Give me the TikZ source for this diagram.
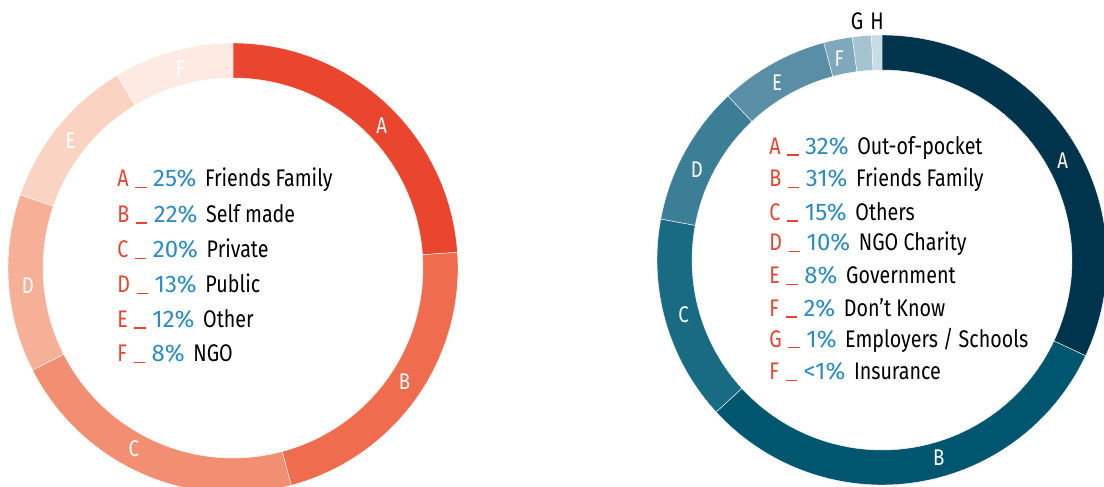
\documentclass[tikz,border=0pt]{standalone}
\usepackage{fontspec}
\setmainfont{Fira Sans}[FakeStretch=0.82]
\newfontfamily\pctfont{Fira Sans}
\definecolor{lA}{HTML}{E9452F}
\definecolor{lB}{HTML}{EF6D4E}
\definecolor{lC}{HTML}{F28F73}
\definecolor{lD}{HTML}{F6B097}
\definecolor{lE}{HTML}{FAD3C3}
\definecolor{lF}{HTML}{FDEAE2}
\definecolor{rA}{HTML}{00344D}
\definecolor{rB}{HTML}{01566F}
\definecolor{rC}{HTML}{196A83}
\definecolor{rD}{HTML}{3D7E97}
\definecolor{rE}{HTML}{5A8EA6}
\definecolor{rF}{HTML}{80A8BB}
\definecolor{rG}{HTML}{A6C3D1}
\definecolor{rH}{HTML}{C8DCE5}
\definecolor{legred}{HTML}{E8432F}
\definecolor{legblue}{HTML}{2B8CC4}
\newcommand\ringseg[3]{%
  \fill[#1,draw=white,line width=0.3pt] (#2:225) arc[start angle=#2,end angle=#3,radius=225]
    -- (#3:190) arc[start angle=#3,end angle=#2,radius=190] -- cycle;}
\newcommand\legrow[3]{{\color{legred}#1\hspace{5pt}\rule[-0.9pt]{8.5pt}{0.9pt}\hspace{5pt}}{\color{legblue}\pctfont #2}\hspace{6.5pt}#3}
\begin{document}
\begin{tikzpicture}[x=0.75pt,y=0.75pt,
  seglabel/.style={text=white,font=\fontsize{17}{17}\selectfont,inner sep=0pt},
  outlabel/.style={text=black,font=\fontsize{18}{18}\selectfont,inner sep=0pt},
  legend/.style={anchor=west,inner sep=0pt,font=\fontsize{18}{18}\selectfont}]
\useasboundingbox (0,0) rectangle (1104,486);
% left ring
\begin{scope}[shift={(233,218)}]
  \ringseg{lA}{90}{4}
  \ringseg{lB}{4}{-75}
  \ringseg{lC}{-75}{-153}
  \ringseg{lD}{-153}{-199}
  \ringseg{lE}{161}{121}
  \ringseg{lF}{121}{90}
  \node[seglabel] (lLA) at (43.8:206) {A};
  \node[seglabel] (lLB) at (-33.6:206) {B};
  \node[seglabel] (lLC) at (-118.8:206) {C};
  \node[seglabel] (lLD) at (185:206) {D};
  \node[seglabel] (lLE) at (142:206) {E};
  \node[seglabel] (lLF) at (104.8:206) {F};
\end{scope}
% right ring
\begin{scope}[shift={(882,226)}]
  \ringseg{rA}{90}{-25.2}
  \ringseg{rB}{-25.2}{-137.5}
  \ringseg{rC}{-137.5}{-190.5}
  \ringseg{rD}{169.5}{133.2}
  \ringseg{rE}{133.2}{105}
  \ringseg{rF}{105}{97.6}
  \ringseg{rG}{97.6}{92.7}
  \ringseg{rH}{92.7}{90}
  \node[seglabel] (rLA) at (28.7:206) {A};
  \node[seglabel] (rLB) at (-74:206) {B};
  \node[seglabel] (rLC) at (195.5:206) {C};
  \node[seglabel] (rLD) at (154:206) {D};
  \node[seglabel] (rLE) at (120.6:206) {E};
  \node[seglabel] (rLF) at (102:206) {F};
\end{scope}
\node[outlabel] (rLG) at (857,465) {G};
\node[outlabel] (rLH) at (877,465) {H};
% left legend
\node[legend] (l1) at (117,306) {\legrow{A}{25\%}{Friends Family}};
\node[legend] (l2) at (117,272) {\legrow{B}{22\%}{Self made}};
\node[legend] (l3) at (117,237) {\legrow{C}{20\%}{Private}};
\node[legend] (l4) at (117,202) {\legrow{D}{13\%}{Public}};
\node[legend] (l5) at (117,167) {\legrow{E}{12\%}{Other}};
\node[legend] (l6) at (117,132) {\legrow{F}{8\%}{NGO}};
% right legend
\node[legend] (r1) at (769,338) {\legrow{A}{32\%}{Out-of-pocket}};
\node[legend] (r2) at (769,306) {\legrow{B}{31\%}{Friends Family}};
\node[legend] (r3) at (769,274) {\legrow{C}{15\%}{Others}};
\node[legend] (r4) at (769,242) {\legrow{D}{10\%}{NGO Charity}};
\node[legend] (r5) at (769,210) {\legrow{E}{8\%}{Government}};
\node[legend] (r6) at (769,178) {\legrow{F}{2\%}{Don’t Know}};
\node[legend] (r7) at (769,146) {\legrow{G}{1\%}{Employers / Schools}};
\node[legend] (r8) at (769,114) {\legrow{F}{<1\%}{Insurance}};
\end{tikzpicture}
\end{document}
